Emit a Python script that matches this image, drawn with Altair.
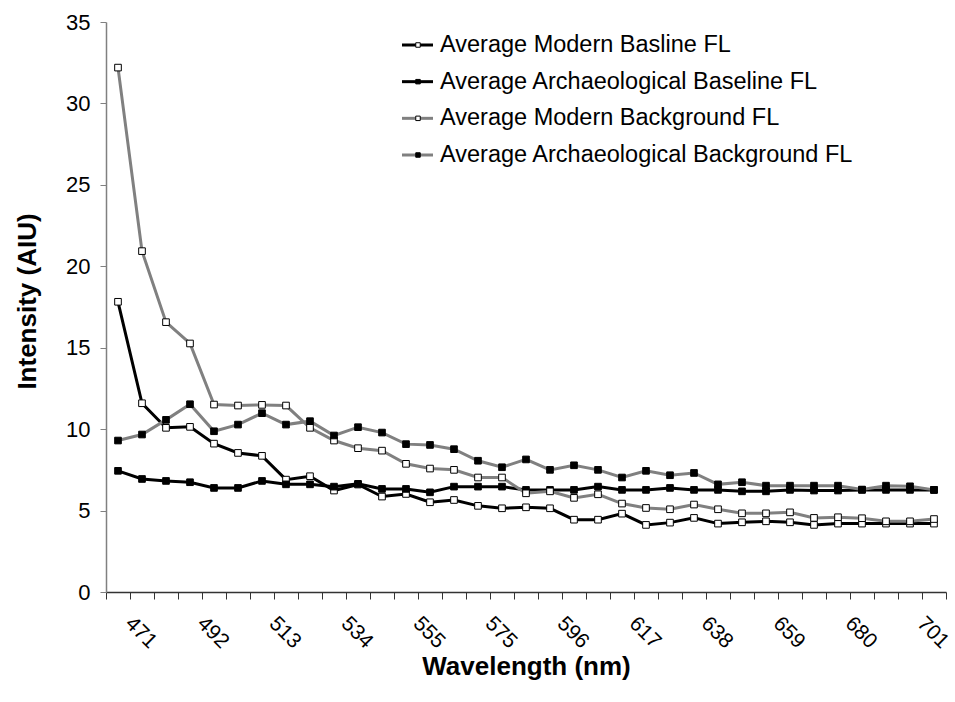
import altair as alt
import pandas as pd

wavelengths = [464, 471, 478, 485, 492, 499, 506, 513, 520, 527, 534, 541, 548, 555, 562, 568,
               575, 582, 589, 596, 603, 610, 617, 624, 631, 638, 645, 652, 659, 666, 673, 680,
               687, 694, 701]
label_wavelengths = [471, 492, 513, 534, 555, 575, 596, 617, 638, 659, 680, 701]
y_ticks = [0, 5, 10, 15, 20, 25, 30, 35]

series_names = ["Average Modern Basline FL", "Average Archaeological Baseline FL",
                "Average Modern Background FL", "Average Archaeological Background FL"]

modern_baseline = [17.82, 11.59, 10.08, 10.14, 9.11, 8.54, 8.36, 6.90, 7.11, 6.23, 6.60, 5.86,
                   6.02, 5.51, 5.65, 5.29, 5.14, 5.20, 5.14, 4.44, 4.44, 4.81, 4.12, 4.26,
                   4.55, 4.20, 4.28, 4.34, 4.28, 4.12, 4.20, 4.20, 4.20, 4.20, 4.20]
arch_baseline = [7.44, 6.94, 6.82, 6.74, 6.39, 6.39, 6.82, 6.61, 6.61, 6.47, 6.64, 6.33,
                 6.33, 6.12, 6.47, 6.47, 6.47, 6.27, 6.27, 6.27, 6.47, 6.27, 6.27, 6.39,
                 6.27, 6.27, 6.18, 6.18, 6.27, 6.23, 6.23, 6.27, 6.27, 6.27, 6.27]
modern_background = [32.2, 20.93, 16.57, 15.26, 11.51, 11.45, 11.49, 11.45, 10.08, 9.30, 8.83, 8.68,
                     7.87, 7.58, 7.50, 7.03, 7.03, 6.06, 6.18, 5.78, 6.00, 5.43, 5.16, 5.08,
                     5.37, 5.08, 4.83, 4.83, 4.89, 4.55, 4.59, 4.53, 4.34, 4.34, 4.48]
arch_background = [9.30, 9.67, 10.57, 11.53, 9.87, 10.28, 10.98, 10.28, 10.49, 9.61, 10.12, 9.79,
                   9.08, 9.03, 8.77, 8.06, 7.66, 8.14, 7.50, 7.78, 7.50, 7.03, 7.44, 7.17,
                   7.31, 6.61, 6.74, 6.53, 6.53, 6.53, 6.53, 6.29, 6.53, 6.49, 6.27]

all_series = [modern_baseline, arch_baseline, modern_background, arch_background]

rows = []
for name, vals in zip(series_names, all_series):
    for w, v in zip(wavelengths, vals):
        rows.append({"series": name, "wl": str(w), "value": v})
df = pd.DataFrame(rows)

legend_df = pd.DataFrame({"series": series_names, "row": list(range(len(series_names)))})

FONT = "Liberation Sans"
color_scale = alt.Scale(domain=series_names, range=["#000000", "#000000", "#808080", "#808080"])
fill_scale = alt.Scale(domain=series_names, range=["#ffffff", "#000000", "#ffffff", "#000000"])

label_list = ",".join("'%d'" % w for w in label_wavelengths)
x_enc = alt.X(
    "wl:O",
    sort=[str(w) for w in wavelengths],
    scale=alt.Scale(type="band", paddingInner=0, paddingOuter=0),
    axis=alt.Axis(
        title="Wavelength (nm)",
        labelExpr="indexof([" + label_list + "], datum.label) >= 0 ? datum.label : ''",
        labelAngle=45,
        labelAlign="left",
        labelBaseline="middle",
        labelOffset=-14,
        labelPadding=21,
        labelOverlap=False,
        labelFontSize=21,
        labelFont=FONT,
        labelColor="#000000",
        tickBand="extent",
        tickSize=7,
        tickColor="#333333",
        domainColor="#333333",
        domainWidth=1.5,
        titleFont=FONT,
        titleFontSize=26,
        titleFontWeight="bold",
        titleColor="#000000",
        titleY=82,
        titleBaseline="alphabetic",
    ),
)

y_main = alt.Y(
    "value:Q",
    scale=alt.Scale(domain=[0, 35], nice=False, zero=True),
    axis=alt.Axis(
        title="Intensity (AIU)",
        values=y_ticks,
        grid=False,
        tickSize=6,
        tickColor="#808080",
        domainColor="#808080",
        domainWidth=1.5,
        labelFont=FONT,
        labelFontSize=22,
        labelColor="#000000",
        labelPadding=10,
        titleFont=FONT,
        titleFontSize=26,
        titleFontWeight="bold",
        titleColor="#000000",
        titleX=-79,
        titleY=279,
        titleAlign="center",
        titleBaseline="middle",
        titleAngle=270,
    ),
)
y_points = alt.Y("value:Q", scale=alt.Scale(domain=[0, 35], nice=False, zero=True), axis=None)

base = alt.Chart(df)
lines = base.mark_line(strokeWidth=3).encode(
    x=x_enc, y=y_main,
    color=alt.Color("series:N", scale=color_scale, legend=None),
)
points = base.mark_square(size=44, stroke="#000000", strokeWidth=1, opacity=1).encode(
    x=x_enc, y=y_points,
    fill=alt.Fill("series:N", scale=fill_scale, legend=None),
    detail="series:N",
)

leg_y = alt.Y("row:Q", scale=alt.Scale(domain=[0, 3], range=[23, 133]), axis=None)
leg_base = alt.Chart(legend_df)
leg_rule = leg_base.mark_rule(strokeWidth=3).encode(
    x=alt.value(296), x2=alt.value(327), y=leg_y,
    color=alt.Color("series:N", scale=color_scale, legend=None),
)
leg_pt = leg_base.mark_square(size=20, stroke="#000000", strokeWidth=1, opacity=1).encode(
    x=alt.value(312), y=leg_y,
    fill=alt.Fill("series:N", scale=fill_scale, legend=None),
)
leg_text = leg_base.mark_text(align="left", baseline="middle", fontSize=23.5, font=FONT,
                              color="#000000").encode(
    x=alt.value(334), y=leg_y, text="series:N",
)

chart = alt.layer(lines, points, leg_rule, leg_pt, leg_text).resolve_scale(
    y="independent"
).properties(
    width=840,
    height=570,
    padding={"left": 106, "top": 22, "right": 9, "bottom": 110},
    autosize="none",
    background="#ffffff",
).configure_view(stroke=None)

chart.save("out.html", embed_options={"renderer": "svg", "actions": False})
